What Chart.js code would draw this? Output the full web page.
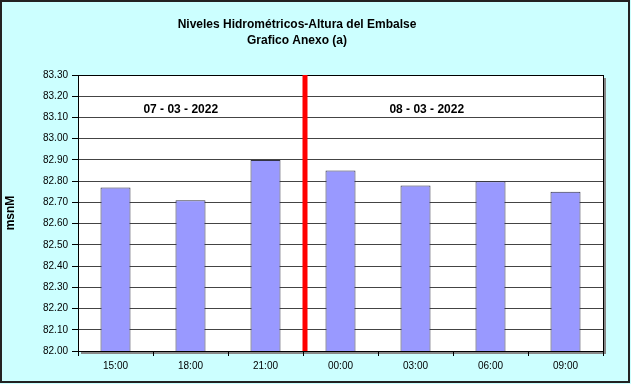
<!DOCTYPE html>
<html lang="es">
<head>
    <meta charset="UTF-8">
    <title>Niveles Hidrométricos</title>
    <script src="https://cdn.jsdelivr.net/npm/chart.js"></script>
    <style>
        body {
            margin: 0;
            background: #fff;
        }

        #marco {
            width: 631px;
            height: 384px;
        }
    </style>
</head>
<body>

    <div id="marco">
        <canvas id="grafica" width="631" height="384"></canvas>
    </div>

<script>
        // Datos
        const horas = ['15:00', '18:00', '21:00', '00:00', '03:00', '06:00', '09:00'];
        const alturas = [82.77, 82.71, 82.90, 82.85, 82.78, 82.80, 82.75];
        const titulo = ['Niveles Hidrométricos-Altura del Embalse', 'Grafico Anexo (a)'];
        const fechas = ['07 - 03 - 2022', '08 - 03 - 2022'];
        const posFechas = [0.87, 4.15];   // posición en índice de categoría
        const nivelFechas = 83.14;
        const corteDia = 2.5;             // entre 21:00 y 00:00

        // Fondo, marco, título y anotaciones
        const extras = {
            id: 'extras',
            beforeDraw(chart) {
                const c = chart.ctx;
                c.save();
                c.fillStyle = '#CCFFFF';
                c.fillRect(0, 0, chart.width, chart.height);
                c.strokeStyle = '#222';
                c.lineWidth = 2;
                c.strokeRect(1, 1, chart.width - 3, chart.height - 3);
                const a = chart.chartArea;
                // sombra del área
                c.fillStyle = '#888';
                c.fillRect(a.left + 3, a.bottom, a.right - a.left, 3);
                c.fillRect(a.right, a.top + 3, 3, a.bottom - a.top);
                c.fillStyle = '#fff';
                c.fillRect(a.left, a.top, a.right - a.left, a.bottom - a.top);
                // título
                c.fillStyle = '#000';
                c.font = 'bold 12px Arial';
                c.textAlign = 'center';
                c.textBaseline = 'middle';
                c.fillText(titulo[0], 297, 25);
                c.fillText(titulo[1], 297, 41);
                c.restore();
            },
            afterDatasetsDraw(chart) {
                const c = chart.ctx;
                const a = chart.chartArea;
                const x = chart.scales.x;
                const y = chart.scales.y;
                c.save();
                // borde del área de trazado
                c.strokeStyle = '#000';
                c.lineWidth = 1;
                c.strokeRect(a.left + 0.5, a.top + 0.5, a.right - a.left, a.bottom - a.top);
                // línea roja de cambio de día
                const xr = x.getPixelForValue(2) + (x.getPixelForValue(3) - x.getPixelForValue(2)) * (corteDia - 2);
                c.strokeStyle = '#FF0000';
                c.lineWidth = 5;
                c.beginPath();
                c.moveTo(xr + 2, a.top);
                c.lineTo(xr + 2, a.bottom);
                c.stroke();
                // fechas
                c.font = 'bold 12px Arial';
                c.textAlign = 'center';
                c.textBaseline = 'middle';
                const paso = x.getPixelForValue(1) - x.getPixelForValue(0);
                fechas.forEach((f, i) => {
                    const px = x.getPixelForValue(0) + paso * posFechas[i];
                    const py = y.getPixelForValue(nivelFechas);
                    const w = c.measureText(f).width;
                    c.fillStyle = '#fff';
                    c.fillRect(px - w / 2 - 3, py - 8, w + 6, 16);
                    c.fillStyle = '#000';
                    c.fillText(f, px, py + 1);
                });
                c.restore();
            }
        };

        const ctx = document.getElementById('grafica').getContext('2d');
        const grafica = new Chart(ctx, {
            type: 'bar',
            data: {
                labels: horas,
                datasets: [{
                    label: 'Altura',
                    data: alturas,
                    backgroundColor: '#9999FF',
                    borderColor: '#333344',
                    borderWidth: 1,
                    borderSkipped: false,
                    barPercentage: 0.4,
                    categoryPercentage: 1
                }]
            },
            options: {
                animation: false,
                responsive: false,
                events: [],
                layout: {
                    padding: { left: 0, right: 28, top: 75, bottom: 13 }
                },
                plugins: {
                    legend: { display: false },
                    title: { display: false },
                    tooltip: { enabled: false }
                },
                scales: {
                    x: {
                        offset: true,
                        grid: {
                            offset: true,
                            drawOnChartArea: false,
                            drawTicks: true,
                            tickLength: 5,
                            tickColor: '#000'
                        },
                        border: { display: true, color: '#000' },
                        ticks: {
                            color: '#000',
                            font: { family: 'Arial', size: 10 },
                            padding: 4,
                            maxRotation: 0
                        },
                        afterFit(scale) { scale.height = 20; }
                    },
                    y: {
                        min: 82,
                        max: 83.3,
                        grid: {
                            color: '#444',
                            drawTicks: true,
                            tickLength: 6,
                            tickColor: '#000'
                        },
                        border: { display: true, color: '#000' },
                        ticks: {
                            stepSize: 0.1,
                            color: '#000',
                            font: { family: 'Arial', size: 10 },
                            padding: 4,
                            callback: (v) => Number(v).toFixed(2)
                        },
                        title: {
                            display: true,
                            text: 'msnM',
                            color: '#000',
                            font: { family: 'Arial', size: 12, weight: 'bold' },
                            padding: { top: 3, bottom: 0 }
                        },
                        afterFit(scale) { scale.width = 78; }
                    }
                }
            },
            plugins: [extras]
        });
    </script>

</body>
</html>
